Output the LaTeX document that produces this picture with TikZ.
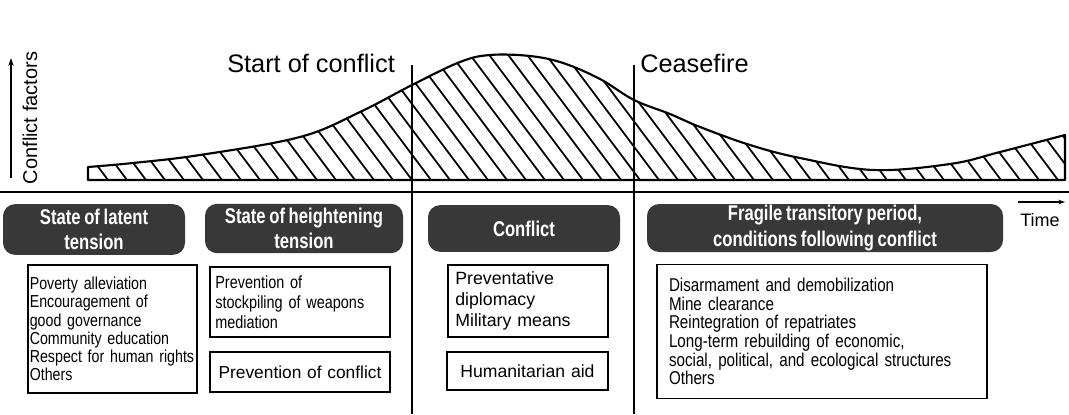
\documentclass[tikz,border=0pt]{standalone}
\usepackage{fontspec}
\setmainfont{Liberation Sans}
\newfontfamily\narrowfont[FakeStretch=0.82,WordSpace=0.8]{Liberation Sans}
\newfontfamily\tagfont[FakeStretch=0.78,WordSpace=0.8]{Liberation Sans}
\usetikzlibrary{arrows.meta}

\tikzset{
  tagbox/.style={rounded corners=9pt, fill=black!78, text=white, align=center, inner sep=0pt,
    font=\tagfont\bfseries\fontsize{16}{19}\selectfont},
  listbox/.style={draw, line width=0.9pt, align=left, inner ysep=0pt},
  title/.style={font=\fontsize{19}{22}\selectfont, anchor=base west, inner sep=0pt},
}

\begin{document}
\begin{tikzpicture}[x=0.75pt,y=-0.75pt]
  \useasboundingbox (0,0) rectangle (1069,414);
  % Upper part of the Figure: conflict factors over time
  \coordinate (cfBot)  at (11,178);
  \coordinate (cfTop)  at (11,58);
  \coordinate (axisL)  at (0,192);
  \coordinate (axisR)  at (1069,192);
  \coordinate (startT) at (412,65);
  \coordinate (startB) at (412,414);
  \coordinate (ceaseT) at (634,65);
  \coordinate (ceaseB) at (634,414);
  \node[rotate=90, font=\fontsize{15}{18}\selectfont] (cf) at (30,118) {Conflict factors};
  \node[title] (start) at (227,72) {Start of conflict};
  \node[title] (cease) at (640,72) {Ceasefire};
  \draw[line width=1.2pt,-{Stealth[length=6pt,width=4pt]}] (cfBot) -- (cfTop);
  \draw[line width=1.6pt, line join=round, path picture={
      \foreach \hx in {-130,-111,...,1069}
        \draw[line width=1.3pt] (\hx,40) -- ++(105,140);
    }] (88,180) -- plot[smooth, tension=0.6] coordinates {(88,167) (133,163) (200,155)
      (300,137) (360,112) (412,85) (460,62) (490,55) (530,56) (563,63) (600,79) (634,100)
      (670,114) (700,127) (750,145) (800,158) (873,170) (950,164) (1000,152) (1065,135)}
    -- (1065,180) -- cycle;
  \draw[line width=1.2pt] (axisL) -- (axisR);
  \draw[line width=1.2pt] (startT) -- (startB);
  \draw[line width=1.2pt] (ceaseT) -- (ceaseB);
  % Lower part of the Figure: the four stages
  \node[tagbox, minimum width=136.5pt, minimum height=38pt] (latent) at (94,229.5) {State of latent\\tension};
  \node[tagbox, minimum width=148.5pt, minimum height=37pt] (height) at (304,228.5) {State of heightening\\tension};
  \node[tagbox, minimum width=144pt, minimum height=35pt] (confl) at (524,228.5) {Conflict};
  \node[tagbox, minimum width=267pt, minimum height=36pt] (fragile) at (825,228) {Fragile transitory period,\\conditions following conflict};
  \coordinate (timeL) at (1018,202);
  \coordinate (timeR) at (1065,202);
  \draw[line width=0.9pt,-{Stealth[length=5pt,width=3.5pt]}] (timeL) -- (timeR);
  \node[font=\fontsize{13.5}{16}\selectfont] (time) at (1040,220) {Time};
  % measures for each stage
  \node[listbox, text width=124pt, inner xsep=1.4pt, minimum height=96pt,
    font=\narrowfont\fontsize{13}{13.7}\selectfont] (latentL) at (112.5,329)
    {Poverty alleviation\\Encouragement of\\good governance\\Community education\\Respect for human rights\\Others};
  \node[listbox, text width=127pt, inner xsep=4pt, minimum height=52.5pt,
    font=\narrowfont\fontsize{13.2}{15}\selectfont] (heightL) at (300,302)
    {Prevention of\\stockpiling of weapons\\mediation};
  \node[listbox, text width=129pt, inner xsep=3pt, minimum height=30pt, align=center,
    font=\fontsize{13}{16}\selectfont] (heightP) at (300,372)
    {Prevention of conflict};
  \node[listbox, text width=109pt, inner xsep=5.5pt, minimum height=54pt,
    font=\fontsize{13.3}{15.75}\selectfont] (conflL) at (528,301)
    {Preventative\\diplomacy\\Military means};
  \node[listbox, text width=114.75pt, inner xsep=3pt, minimum height=28.5pt, align=center,
    font=\fontsize{13.2}{16}\selectfont] (conflH) at (527.5,371)
    {Humanitarian aid};
  \node[listbox, text width=229.5pt, inner xsep=9pt, minimum height=101pt,
    font=\narrowfont\fontsize{13.9}{14}\selectfont] (fragileL) at (822,331.5)
    {Disarmament and demobilization\\Mine clearance\\Reintegration of repatriates\\Long-term rebuilding of economic,\\social, political, and ecological structures\\Others};
\end{tikzpicture}
\end{document}
